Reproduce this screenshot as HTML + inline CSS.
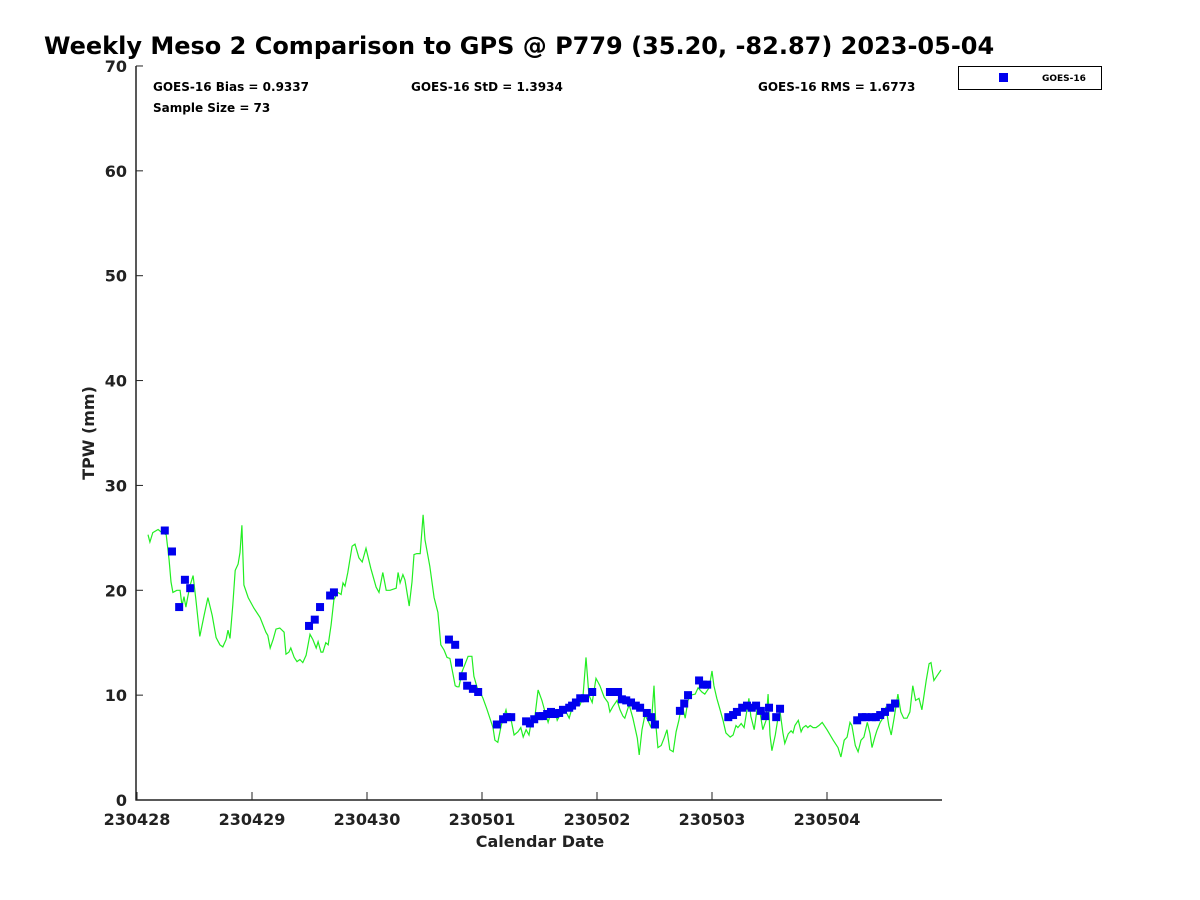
<!DOCTYPE html>
<html><head><meta charset="utf-8"><style>
body{margin:0;background:#fff}
svg{display:block;font-family:"DejaVu Sans","Liberation Sans",sans-serif;font-weight:bold}
</style></head><body>
<svg width="1200" height="900" viewBox="0 0 1200 900">
<text x="44" y="54" font-size="24" fill="#000">Weekly Meso 2 Comparison to GPS @ P779 (35.20, -82.87) 2023-05-04</text>
<g id="axes"></g>
<g id="series"></g>
<text x="153" y="91" font-size="12">GOES-16 Bias = 0.9337</text>
<text x="411" y="91" font-size="12">GOES-16 StD = 1.3934</text>
<text x="758" y="91" font-size="12">GOES-16 RMS = 1.6773</text>
<text x="153" y="112" font-size="12">Sample Size = 73</text>
<g>
<rect x="958.5" y="66.5" width="143" height="23" fill="#fff" stroke="#000" stroke-width="1"/>
<rect x="999" y="73" width="9" height="9" fill="#0000ee"/>
<text x="1042" y="81" font-size="9">GOES-16</text>
</g>
<text x="540" y="847" font-size="16" text-anchor="middle" fill="#222">Calendar Date</text>
<text transform="translate(94,433) rotate(-90)" font-size="16" text-anchor="middle" fill="#222">TPW (mm)</text>
</svg>
<script>
const lineHours=[2.3,2.7,3.3,4.4,5.2,6.1,6.7,7.1,7.5,8.3,9.0,9.4,9.8,10.2,10.6,11.1,11.7,12.3,13.1,14.0,14.8,15.7,16.5,17.3,17.9,18.6,19.0,19.4,20.0,20.5,21.1,21.5,21.9,22.3,23.2,24.4,25.7,26.9,27.3,27.8,28.4,29.0,29.8,30.7,31.1,31.7,32.1,32.8,33.4,34.0,34.6,35.3,36.1,36.7,37.4,37.8,38.4,38.8,39.4,39.9,40.5,41.1,41.9,42.6,43.0,43.4,44.0,44.9,45.5,46.3,47.0,47.8,48.8,49.9,50.5,51.3,52.0,52.8,54.1,54.5,54.9,55.5,55.9,56.1,56.8,57.4,57.8,58.4,59.1,59.7,60.1,61.1,62.0,62.8,63.4,64.1,64.7,65.3,65.9,66.4,66.8,67.2,67.8,68.5,69.1,69.9,70.3,71.0,71.6,72.2,73.0,74.3,74.7,75.3,76.0,77.0,77.4,78.1,78.7,79.5,80.1,80.6,81.2,81.8,82.2,82.9,83.7,84.5,85.4,85.8,86.4,87.2,87.7,88.5,89.1,90.2,90.8,91.2,91.8,92.5,93.1,93.7,94.3,95.0,95.8,96.6,97.5,98.3,98.7,99.3,100.2,100.8,101.4,101.8,102.7,103.5,104.4,104.8,105.4,106.0,106.6,107.3,107.9,108.3,108.7,109.4,110.0,110.6,111.2,111.9,112.5,113.1,113.7,114.4,115.0,115.6,116.5,117.1,117.9,118.5,119.4,120.0,120.4,121.0,121.7,122.3,122.9,123.8,124.4,125.0,125.4,126.1,126.7,127.3,127.7,128.1,128.8,129.4,130.0,130.6,131.3,131.7,132.1,132.5,133.2,133.8,134.2,134.8,135.2,135.9,136.5,136.9,137.3,138.0,138.6,139.0,139.6,140.0,140.5,141.1,141.7,142.3,143.0,144.0,145.3,146.3,146.9,147.6,148.2,148.8,149.2,149.9,150.5,151.1,151.7,152.4,153.0,153.4,154.0,154.4,155.1,155.9,156.3,156.9,157.4,158.0,158.8,159.4,160.0,160.7,161.3,161.9,162.5,163.2,163.8,164.7,165.3,165.7,166.3,166.9,167.8];
const lineValues=[25.3,24.6,25.5,25.8,25.5,25.3,22.9,20.8,19.8,20.0,20.0,18.5,19.4,18.4,19.4,20.5,21.4,19.1,15.6,17.6,19.3,17.6,15.5,14.8,14.6,15.3,16.2,15.4,18.6,21.9,22.5,23.6,26.2,20.5,19.3,18.3,17.4,16.0,15.7,14.5,15.3,16.3,16.4,16.0,13.9,14.1,14.5,13.6,13.2,13.4,13.1,13.8,15.8,15.3,14.5,15.1,14.1,14.1,15.0,14.8,16.7,19.1,19.8,19.6,20.7,20.4,21.7,24.2,24.4,23.1,22.7,24.0,22.1,20.3,19.8,21.7,20.0,20.0,20.2,21.7,20.7,21.5,21.0,20.5,18.5,20.8,23.4,23.5,23.5,27.2,24.8,22.3,19.3,17.9,14.8,14.3,13.6,13.5,12.1,10.9,10.8,10.8,12.2,13.0,13.7,13.7,11.8,10.7,10.3,9.7,8.7,6.9,5.7,5.5,7.1,8.6,7.8,7.6,6.2,6.5,6.9,6.0,6.7,6.2,7.3,7.4,10.5,9.5,8.0,7.4,8.4,8.6,7.6,8.3,8.8,7.8,8.8,9.5,9.4,9.1,10.0,13.6,10.0,9.3,11.6,10.9,9.8,9.3,8.4,8.9,9.5,8.6,8.0,7.8,9.1,7.8,5.9,4.3,6.7,8.1,7.6,6.9,10.9,7.1,5.0,5.2,5.9,6.7,4.8,4.6,6.5,7.6,9.2,7.8,9.5,10.0,10.1,10.7,10.3,10.1,10.7,12.3,10.9,9.7,8.6,7.6,6.4,6.0,6.2,7.1,6.9,7.3,6.9,8.6,9.7,8.0,6.7,8.6,8.4,6.7,7.6,10.1,6.2,4.7,6.2,7.9,8.5,6.4,5.4,6.3,6.6,6.4,7.1,7.6,6.5,6.9,7.1,6.9,7.1,6.9,6.9,7.1,7.4,6.7,5.7,5.0,4.1,5.7,6.0,7.4,7.1,5.2,4.6,5.7,6.0,7.4,6.3,5.0,6.0,6.6,7.4,8.0,8.9,7.1,6.2,7.8,10.1,8.4,7.8,7.8,8.4,10.9,9.5,9.7,8.6,11.4,13.0,13.1,11.4,11.8,12.4];
const goesHours=[5.8,7.3,8.8,10.0,11.1,35.9,37.1,38.2,40.3,41.1,65.1,66.4,67.2,68.0,68.9,70.1,71.2,75.1,76.4,77.2,78.1,81.2,82.0,82.9,83.9,84.7,85.6,86.4,87.2,88.1,88.9,90.2,90.8,91.6,92.5,93.5,95.0,98.7,99.5,100.4,101.2,102.1,103.1,104.1,105.0,106.4,107.3,108.1,113.3,114.2,115.0,117.3,118.1,119.0,123.4,124.4,125.2,126.3,127.3,128.3,129.2,130.2,131.1,131.9,133.4,134.2,150.3,151.3,152.1,153.4,154.2,155.1,156.1,157.2,158.2];
const goesValues=[25.7,23.7,18.4,21.0,20.2,16.6,17.2,18.4,19.5,19.8,15.3,14.8,13.1,11.8,10.9,10.6,10.3,7.2,7.7,7.9,7.9,7.5,7.3,7.7,8.0,8.0,8.2,8.4,8.2,8.3,8.6,8.8,9.0,9.3,9.7,9.7,10.3,10.3,10.3,10.3,9.6,9.5,9.3,9.0,8.8,8.3,7.9,7.2,8.5,9.2,10.0,11.4,11.0,11.0,7.9,8.1,8.4,8.8,9.0,8.8,9.0,8.5,8.0,8.8,7.9,8.7,7.6,7.9,7.9,7.9,7.9,8.1,8.4,8.8,9.2];
const yTicks=[0,10,20,30,40,50,60,70];
const xTickLabels=["230428","230429","230430","230501","230502","230503","230504"];

const NS="http://www.w3.org/2000/svg";
const X0=137,DAYPX=115,Y0=800,YPX=10.486;
const xs=h=>X0+h/24*DAYPX;
const ys=v=>Y0-v*YPX;
function mk(tag,attrs,parent){const e=document.createElementNS(NS,tag);for(const k in attrs)e.setAttribute(k,attrs[k]);parent.appendChild(e);return e;}
const axes=document.getElementById('axes');
const series=document.getElementById('series');
let e=mk('line',{x1:136,y1:66,x2:136,y2:800.5,stroke:'#222','stroke-width':1.5},axes);


e=mk('line',{x1:135.5,y1:800,x2:942,y2:800,stroke:'#222','stroke-width':1.5},axes);


yTicks.forEach(v=>{
  const y=ys(v);
  let t=mk('line',{x1:136,y1:y,x2:143,y2:y,stroke:'#222','stroke-width':1},axes);
  
  
  let l=mk('text',{x:127,y:y+6,'font-size':16,'text-anchor':'end',fill:'#222'},axes);
  l.textContent=String(v);
  
  
});
xTickLabels.forEach((s,i)=>{
  const x=xs(i*24);
  let t=mk('line',{x1:x,y1:800,x2:x,y2:792,stroke:'#222','stroke-width':1},axes);
  
  
  let l=mk('text',{x:x,y:825,'font-size':16,'text-anchor':'middle',fill:'#222'},axes);
  l.textContent=s;
  
  
});
const pts=lineHours.map((h,i)=>xs(h).toFixed(1)+','+ys(lineValues[i]).toFixed(1)).join(' ');
const pl=mk('polyline',{points:pts,fill:'none',stroke:'#22ee22','stroke-width':1.2},series);


goesHours.forEach((h,i)=>{
  const r=mk('rect',{x:xs(h)-4,y:ys(goesValues[i])-4,width:8,height:8,fill:'#0000ee'},series);
  
  
});
</script>
</body></html>
